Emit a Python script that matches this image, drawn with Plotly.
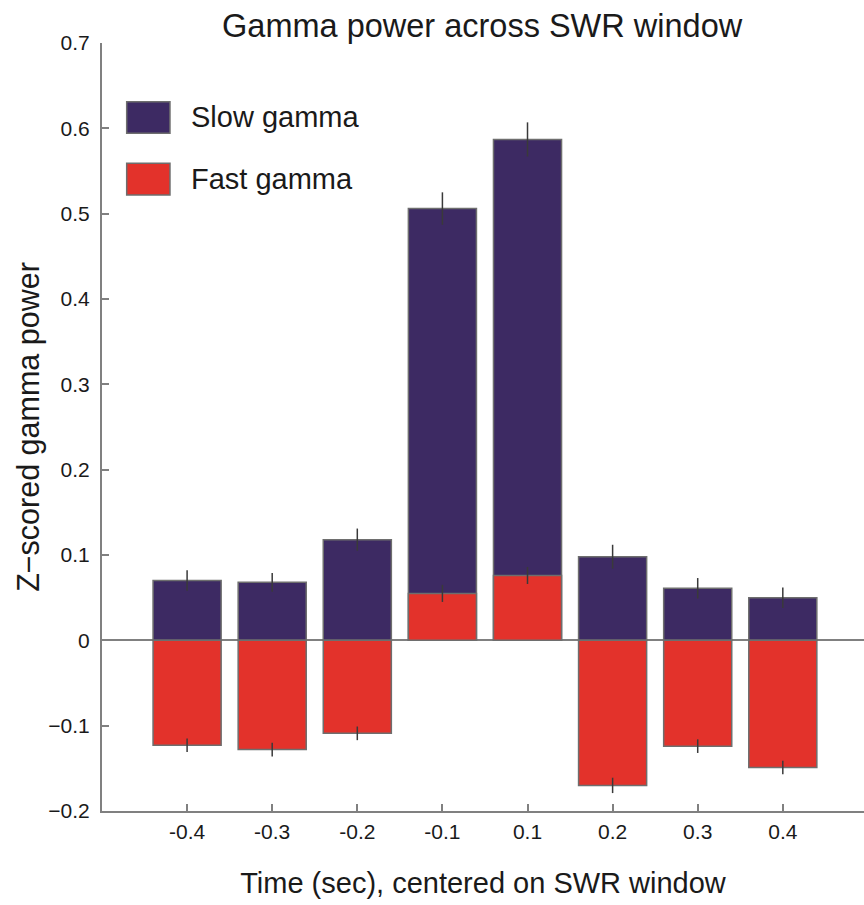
import plotly.graph_objects as go

# ---- data ----
categories = ["-0.4", "-0.3", "-0.2", "-0.1", "0.1", "0.2", "0.3", "0.4"]
slow_gamma = [0.070, 0.068, 0.118, 0.506, 0.587, 0.098, 0.061, 0.050]
slow_err = [0.012, 0.011, 0.013, 0.019, 0.020, 0.014, 0.012, 0.012]
fast_gamma = [-0.123, -0.128, -0.109, 0.055, 0.076, -0.170, -0.124, -0.149]
fast_err = [0.008, 0.008, 0.008, 0.010, 0.010, 0.009, 0.008, 0.008]
y_tickvals = [-0.2, -0.1, 0, 0.1, 0.2, 0.3, 0.4, 0.5, 0.6, 0.7]
y_ticktext = ["\u22120.2", "\u22120.1", "0", "0.1", "0.2", "0.3", "0.4", "0.5", "0.6", "0.7"]
series_names = ["Slow gamma", "Fast gamma"]

SLOW_COLOR = "#3d2a63"
FAST_COLOR = "#e3322b"
EDGE = "#6e6e6e"
AXIS = "#808080"
FONT = "Liberation Sans, Arial, sans-serif"

xpos = list(range(1, len(categories) + 1))

fig = go.Figure()
fig.add_trace(go.Bar(
    x=xpos, y=slow_gamma, width=0.8, name=series_names[0],
    marker=dict(color=SLOW_COLOR, line=dict(color=EDGE, width=1.5)),
    error_y=dict(type="data", array=slow_err, color="#3a3a3a", thickness=1.5, width=0),
    showlegend=False,
))
fig.add_trace(go.Bar(
    x=xpos, y=fast_gamma, width=0.8, name=series_names[1],
    marker=dict(color=FAST_COLOR, line=dict(color=EDGE, width=1.5)),
    error_y=dict(type="data", array=fast_err, color="#3a3a3a", thickness=1.5, width=0),
    showlegend=False,
))

# legend drawn as shapes + text
legend_items = [(series_names[0], SLOW_COLOR, 0.9236), (series_names[1], FAST_COLOR, 0.8434)]
for name, col, ytop in legend_items:
    fig.add_shape(type="rect", xref="paper", yref="paper",
                  x0=0.0324, x1=0.0892, y0=ytop - 0.0412, y1=ytop,
                  fillcolor=col, line=dict(color=EDGE, width=1.5))
    fig.add_annotation(xref="paper", yref="paper", x=0.1142, y=ytop - 0.0206,
                       text=name, showarrow=False, xanchor="left", yanchor="middle",
                       font=dict(family=FONT, size=29, color="#1a1a1a"))

fig.update_layout(
    width=864, height=905,
    margin=dict(l=102, r=0, t=43, b=94),
    barmode="overlay",
    plot_bgcolor="white", paper_bgcolor="white",
    title=dict(text="Gamma power across SWR window", x=0.558, xanchor="center",
               y=0.972, yanchor="middle",
               font=dict(family=FONT, size=32.5, color="#1a1a1a")),
    font=dict(family=FONT, color="#1a1a1a"),
)
fig.update_xaxes(
    range=[0, 8.954], tickvals=xpos, ticktext=categories,
    showline=True, linecolor=AXIS, linewidth=2,
    ticks="inside", ticklen=7, tickcolor=AXIS, tickwidth=1.5,
    showgrid=False, zeroline=False,
    tickfont=dict(family=FONT, size=21, color="#1a1a1a"),
    ticklabelstandoff=1,
    title=dict(text="Time (sec), centered on SWR window",
               font=dict(family=FONT, size=29, color="#1a1a1a"), standoff=30),
)
fig.update_yaxes(
    range=[-0.2, 0.7], tickvals=y_tickvals, ticktext=y_ticktext,
    showline=True, linecolor=AXIS, linewidth=2,
    ticks="inside", ticklen=7, tickcolor=AXIS, tickwidth=1.5,
    showgrid=False, zeroline=True, zerolinecolor=AXIS, zerolinewidth=1.5,
    tickfont=dict(family=FONT, size=21, color="#1a1a1a"),
    ticklabelstandoff=6,
    title=dict(text="Z\u2212scored gamma power",
               font=dict(family=FONT, size=30.5, color="#1a1a1a"), standoff=0),
)

fig.write_html("out.html")
